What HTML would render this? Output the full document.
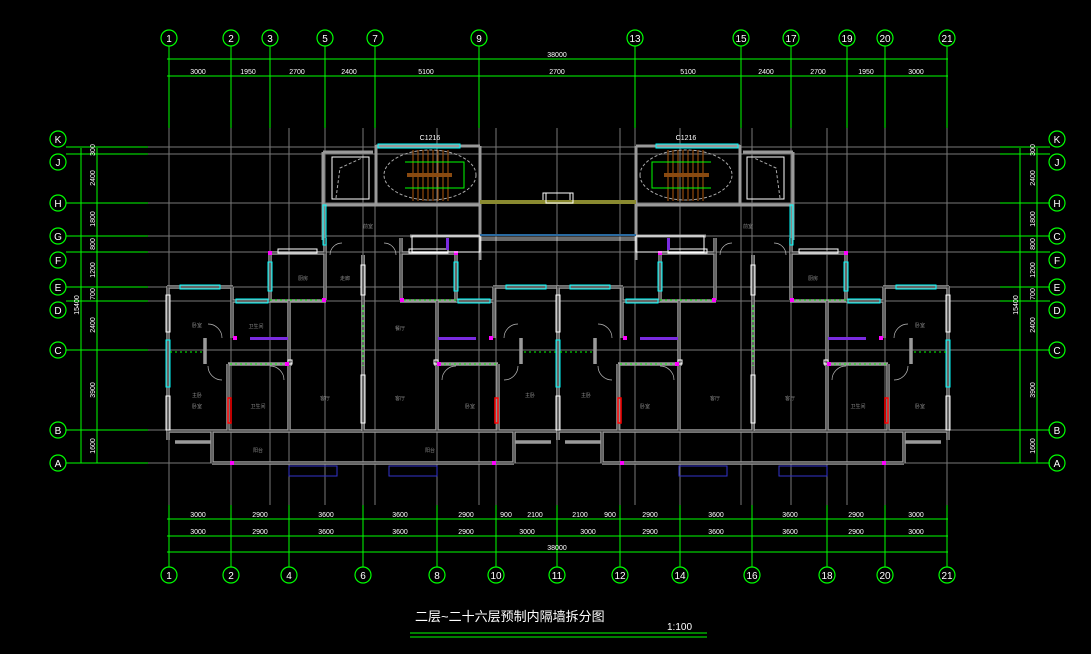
<!DOCTYPE html>
<html><head><meta charset="utf-8"><style>
html,body{margin:0;padding:0;background:#000;}
svg{display:block}
text{font-family:"Liberation Sans","Noto Sans CJK SC",sans-serif;}
</style></head><body>
<svg width="1091" height="654" viewBox="0 0 1091 654" xmlns="http://www.w3.org/2000/svg">
<rect width="1091" height="654" fill="#000"/>
<defs>
<g id="U">
 <g stroke="#9a9a9a" stroke-width="3.5" fill="none">
  <path d="M168 286V440 M167 287H233 M232 287V338 M232 301H270 M270 252V301 M270 253H326 M325 238V300 M270 301H326 M289 301V431 M363 255V431 M228 364H292 M228 364V431 M205 338V364 M167 431H363 M212 431V463 M212 463H363 M175 442H212"/>
 </g>
 <g stroke="#333" stroke-width="1" fill="none">
  <path d="M168 286V440 M167 287H233 M232 287V338 M232 301H270 M270 252V301 M270 253H326 M325 238V300 M289 301V431 M363 255V431 M228 364V431 M167 431H363 M212 431V463 M212 463H363"/>
 </g>
 <g stroke="#fff" stroke-width="1" fill="none">
  <rect x="166" y="295" width="4" height="37"/>
  <rect x="166" y="396" width="4" height="34"/>
  <rect x="278" y="249" width="39" height="4"/>
  <rect x="361" y="265" width="4" height="30"/>
  <rect x="361" y="375" width="4" height="48"/>
  <rect x="288" y="360" width="4" height="4"/>
 </g>
 <g stroke="#0ff" stroke-width="1" fill="none">
  <rect x="166" y="340" width="4" height="47"/>
  <rect x="180" y="285" width="40" height="4"/>
  <rect x="236" y="299" width="32" height="4"/>
  <rect x="268" y="262" width="4" height="29"/>
 </g>
 <rect x="250" y="337" width="38" height="3" fill="#7a2be0"/>
 <rect x="228" y="398" width="3" height="25" fill="none" stroke="#f00" stroke-width="1.5"/>
 <g stroke="#0f0" stroke-width="1" stroke-dasharray="2,3" fill="none">
  <path d="M363 305V366 M170 352H205 M230 364H290 M270 300H325"/>
 </g>
 <g stroke="#bbb" stroke-width="0.7" fill="none">
  <path d="M222 338A14 14 0 0 0 208 324 M208 366A14 14 0 0 0 222 380 M270 366A14 14 0 0 1 284 380 M330 255A12 12 0 0 1 342 243"/>
 </g>
 <g fill="#f0f">
  <rect x="230" y="461" width="4" height="4"/><rect x="233" y="336" width="4" height="4"/><rect x="285" y="362" width="4" height="4"/><rect x="268" y="251" width="4" height="4"/><rect x="322" y="298" width="4" height="4"/>
 </g>
 <rect x="289" y="466" width="48" height="10" fill="none" stroke="#33c" stroke-width="1"/>
</g>
<g id="L">
 <use href="#U"/>
 <use href="#U" transform="translate(726,0) scale(-1,1)"/>
 <g stroke="#9a9a9a" stroke-width="3" fill="none">
  <path d="M323 152V240 M323 152H373 M376 145V205 M376 146H480 M480 146V205 M323 205H480 M410 236H480 M480 205V260"/>
 </g>
 <rect x="323" y="205" width="3" height="40" fill="none" stroke="#0ff"/>
 <rect x="378" y="144" width="82" height="4" fill="none" stroke="#0ff"/>
 <rect x="332" y="157" width="37" height="42" fill="none" stroke="#fff"/>
 <path d="M336 198L340 168 362 158" stroke="#aaa" stroke-dasharray="3,2" fill="none"/>
 <ellipse cx="430" cy="175" rx="46" ry="25" stroke="#aaa" stroke-dasharray="3,2" fill="none"/>
 <g stroke="#b05a10" stroke-width="1">
  <path d="M413 150V201 M418 150V201 M423 150V201 M428 150V201 M433 150V201 M438 150V201 M443 150V201 M448 150V201"/>
 </g>
 <rect x="407" y="173" width="45" height="4" fill="#8a4a10"/>
 <path d="M405 162H464V188H405" stroke="#0f0" fill="none"/>
 <rect x="412" y="236" width="68" height="16" fill="none" stroke="#fff"/>
 <rect x="446" y="238" width="3" height="12" fill="#7a2be0"/>
 <rect x="480" y="200" width="156" height="4" fill="#8a8a30"/>
 <rect x="543" y="193" width="27" height="10" fill="none" stroke="#fff"/>
 <rect x="480" y="234" width="156" height="2" fill="#2a6aa0"/>
 <rect x="480" y="238" width="156" height="2" fill="none" stroke="#fff" stroke-width="0.6"/>
</g>
</defs>

<g stroke="#777" stroke-width="1">
 <path d="M148 147H1000 M148 154H1000 M148 203H1000 M148 236H1000 M148 252H1000 M148 287H1000 M148 301H1000 M148 350H1000 M148 430H1000 M148 463H1000"/>
 <path d="M169 128V505 M231 128V505 M270 128V505 M325 128V505 M375 128V505 M479 128V505 M635 128V505 M741 128V505 M791 128V505 M847 128V505 M885 128V505 M947 128V505 M289 128V505 M363 128V505 M437 128V505 M496 128V505 M557 128V505 M620 128V505 M680 128V505 M752 128V505 M827 128V505"/>
</g>

<use href="#L"/>
<use href="#L" transform="translate(1116,0) scale(-1,1)"/>

<g fill="#888" font-size="5" text-anchor="middle">
 <text x="197" y="327">卧室</text><text x="197" y="397">主卧</text><text x="197" y="408">卧室</text><text x="258" y="408">卫生间</text><text x="325" y="400">客厅</text><text x="303" y="280">厨房</text><text x="256" y="328">卫生间</text><text x="258" y="452">阳台</text><text x="400" y="400">客厅</text><text x="400" y="330">餐厅</text><text x="470" y="408">卧室</text><text x="530" y="397">主卧</text><text x="430" y="452">阳台</text><text x="345" y="280">走廊</text><text x="368" y="228">前室</text>
 <text x="920" y="327">卧室</text><text x="920" y="408">卧室</text><text x="858" y="408">卫生间</text><text x="790" y="400">客厅</text><text x="715" y="400">客厅</text><text x="645" y="408">卧室</text><text x="586" y="397">主卧</text><text x="813" y="280">厨房</text><text x="748" y="228">前室</text>
</g>

<g stroke="#0f0" stroke-width="1" fill="none">
 <path d="M169 46V128 M231 46V128 M270 46V128 M325 46V128 M375 46V128 M479 46V128 M635 46V128 M741 46V128 M791 46V128 M847 46V128 M885 46V128 M947 46V128"/>
 <path d="M169 505V567 M231 505V567 M289 505V567 M363 505V567 M437 505V567 M496 505V567 M557 505V567 M620 505V567 M680 505V567 M752 505V567 M827 505V567 M885 505V567 M947 505V567"/>
 <path d="M167 59H948 M167 76H948 M167 519H948 M167 536H948 M167 552H948"/>
 <path d="M66 147H148 M66 154H148 M66 203H148 M66 236H148 M66 252H148 M66 287H148 M66 301H148 M66 350H148 M66 430H148 M66 463H148"/>
 <path d="M1000 147H1050 M1000 154H1050 M1000 203H1050 M1000 236H1050 M1000 252H1050 M1000 287H1050 M1000 301H1050 M1000 350H1050 M1000 430H1050 M1000 463H1050"/>
 <path d="M81 148V463 M97 148V463 M1020 148V463 M1037 148V463"/>
 <path d="M410 633H707 M410 637H707"/>
 <g stroke-width="1.2">
 <circle cx="169" cy="38" r="8"/><circle cx="231" cy="38" r="8"/><circle cx="270" cy="38" r="8"/><circle cx="325" cy="38" r="8"/><circle cx="375" cy="38" r="8"/><circle cx="479" cy="38" r="8"/><circle cx="635" cy="38" r="8"/><circle cx="741" cy="38" r="8"/><circle cx="791" cy="38" r="8"/><circle cx="847" cy="38" r="8"/><circle cx="885" cy="38" r="8"/><circle cx="947" cy="38" r="8"/>
 <circle cx="169" cy="575" r="8"/><circle cx="231" cy="575" r="8"/><circle cx="289" cy="575" r="8"/><circle cx="363" cy="575" r="8"/><circle cx="437" cy="575" r="8"/><circle cx="496" cy="575" r="8"/><circle cx="557" cy="575" r="8"/><circle cx="620" cy="575" r="8"/><circle cx="680" cy="575" r="8"/><circle cx="752" cy="575" r="8"/><circle cx="827" cy="575" r="8"/><circle cx="885" cy="575" r="8"/><circle cx="947" cy="575" r="8"/>
 <circle cx="58" cy="139" r="8"/><circle cx="58" cy="162" r="8"/><circle cx="58" cy="203" r="8"/><circle cx="58" cy="236" r="8"/><circle cx="58" cy="260" r="8"/><circle cx="58" cy="287" r="8"/><circle cx="58" cy="310" r="8"/><circle cx="58" cy="350" r="8"/><circle cx="58" cy="430" r="8"/><circle cx="58" cy="463" r="8"/>
 <circle cx="1057" cy="139" r="8"/><circle cx="1057" cy="162" r="8"/><circle cx="1057" cy="203" r="8"/><circle cx="1057" cy="236" r="8"/><circle cx="1057" cy="260" r="8"/><circle cx="1057" cy="287" r="8"/><circle cx="1057" cy="310" r="8"/><circle cx="1057" cy="350" r="8"/><circle cx="1057" cy="430" r="8"/><circle cx="1057" cy="463" r="8"/>
 </g>
</g>

<g fill="#fff" font-size="10" text-anchor="middle">
 <text x="169" y="42">1</text><text x="231" y="42">2</text><text x="270" y="42">3</text><text x="325" y="42">5</text><text x="375" y="42">7</text><text x="479" y="42">9</text><text x="635" y="42">13</text><text x="741" y="42">15</text><text x="791" y="42">17</text><text x="847" y="42">19</text><text x="885" y="42">20</text><text x="947" y="42">21</text>
 <text x="169" y="579">1</text><text x="231" y="579">2</text><text x="289" y="579">4</text><text x="363" y="579">6</text><text x="437" y="579">8</text><text x="496" y="579">10</text><text x="557" y="579">11</text><text x="620" y="579">12</text><text x="680" y="579">14</text><text x="752" y="579">16</text><text x="827" y="579">18</text><text x="885" y="579">20</text><text x="947" y="579">21</text>
 <text x="58" y="143">K</text><text x="58" y="166">J</text><text x="58" y="207">H</text><text x="58" y="240">G</text><text x="58" y="264">F</text><text x="58" y="291">E</text><text x="58" y="314">D</text><text x="58" y="354">C</text><text x="58" y="434">B</text><text x="58" y="467">A</text>
 <text x="1057" y="143">K</text><text x="1057" y="166">J</text><text x="1057" y="207">H</text><text x="1057" y="240">C</text><text x="1057" y="264">F</text><text x="1057" y="291">E</text><text x="1057" y="314">D</text><text x="1057" y="354">C</text><text x="1057" y="434">B</text><text x="1057" y="467">A</text>
</g>
<g fill="#fff" font-size="7" text-anchor="middle">
 <text x="557" y="57">38000</text>
 <text x="198" y="74">3000</text><text x="248" y="74">1950</text><text x="297" y="74">2700</text><text x="349" y="74">2400</text><text x="426" y="74">5100</text><text x="557" y="74">2700</text><text x="688" y="74">5100</text><text x="766" y="74">2400</text><text x="818" y="74">2700</text><text x="866" y="74">1950</text><text x="916" y="74">3000</text>
 <text x="198" y="517">3000</text><text x="260" y="517">2900</text><text x="326" y="517">3600</text><text x="400" y="517">3600</text><text x="466" y="517">2900</text><text x="506" y="517">900</text><text x="535" y="517">2100</text><text x="580" y="517">2100</text><text x="610" y="517">900</text><text x="650" y="517">2900</text><text x="716" y="517">3600</text><text x="790" y="517">3600</text><text x="856" y="517">2900</text><text x="916" y="517">3000</text>
 <text x="198" y="534">3000</text><text x="260" y="534">2900</text><text x="326" y="534">3600</text><text x="400" y="534">3600</text><text x="466" y="534">2900</text><text x="527" y="534">3000</text><text x="588" y="534">3000</text><text x="650" y="534">2900</text><text x="716" y="534">3600</text><text x="790" y="534">3600</text><text x="856" y="534">2900</text><text x="916" y="534">3000</text>
 <text x="557" y="550">38000</text>
 <text x="430" y="140">C1216</text><text x="686" y="140">C1216</text>
</g>
<g fill="#fff" font-size="7" text-anchor="middle">
 <text transform="translate(95,150) rotate(-90)">300</text><text transform="translate(95,178) rotate(-90)">2400</text><text transform="translate(95,219) rotate(-90)">1800</text><text transform="translate(95,244) rotate(-90)">800</text><text transform="translate(95,270) rotate(-90)">1200</text><text transform="translate(95,294) rotate(-90)">700</text><text transform="translate(95,325) rotate(-90)">2400</text><text transform="translate(95,390) rotate(-90)">3900</text><text transform="translate(95,446) rotate(-90)">1600</text><text transform="translate(79,305) rotate(-90)">15400</text>
 <text transform="translate(1035,150) rotate(-90)">300</text><text transform="translate(1035,178) rotate(-90)">2400</text><text transform="translate(1035,219) rotate(-90)">1800</text><text transform="translate(1035,244) rotate(-90)">800</text><text transform="translate(1035,270) rotate(-90)">1200</text><text transform="translate(1035,294) rotate(-90)">700</text><text transform="translate(1035,325) rotate(-90)">2400</text><text transform="translate(1035,390) rotate(-90)">3900</text><text transform="translate(1035,446) rotate(-90)">1600</text><text transform="translate(1018,305) rotate(-90)">15400</text>
</g>
<text x="415" y="621" fill="#fff" font-size="13" font-family="'Liberation Sans','Noto Sans CJK SC',sans-serif">二层~二十六层预制内隔墙拆分图</text>
<text x="667" y="630" fill="#fff" font-size="10">1:100</text>
</svg>
</body></html>
